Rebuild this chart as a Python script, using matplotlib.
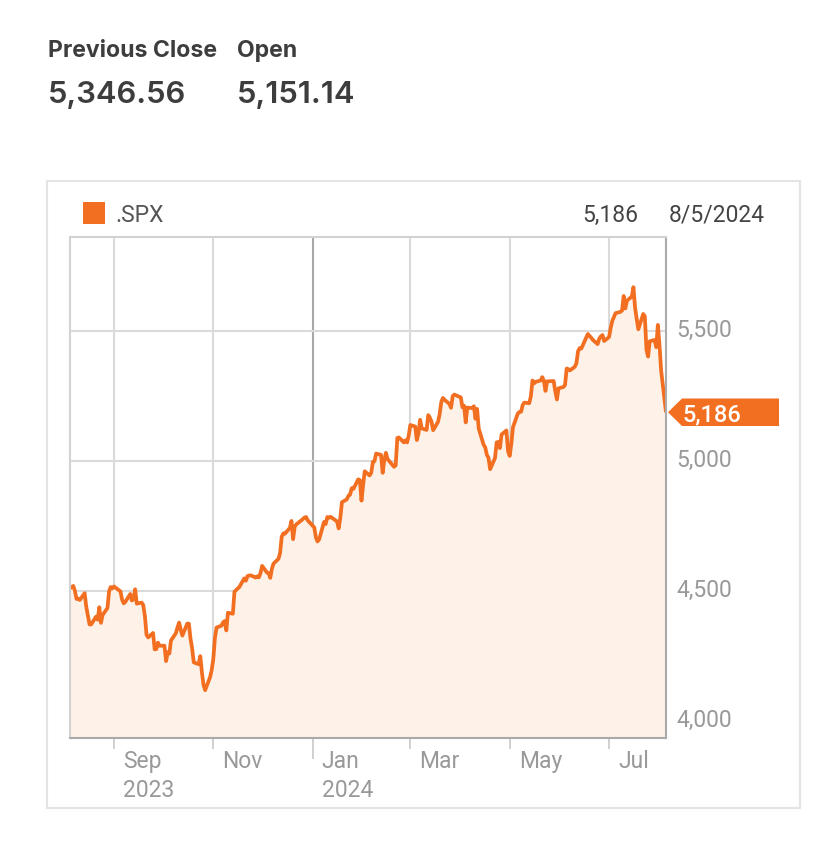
import matplotlib
matplotlib.use("Agg")
import matplotlib.pyplot as plt
import matplotlib.dates as mdates
from matplotlib.patches import Rectangle, Polygon
import numpy as np

# ---------------- data ----------------
header_labels = ["Previous Close", "Open"]
header_values = ["5,346.56", "5,151.14"]
series_name = ".SPX"
last_value_label = "5,186"
last_date_label = "8/5/2024"

dates = [
    "2023-08-04", "2023-08-07", "2023-08-08", "2023-08-09", "2023-08-10", "2023-08-11", "2023-08-14", "2023-08-15",
    "2023-08-16", "2023-08-17", "2023-08-18", "2023-08-21", "2023-08-22", "2023-08-23", "2023-08-24",
    "2023-08-25", "2023-08-28", "2023-08-29", "2023-08-30", "2023-08-31",
    "2023-09-01", "2023-09-05", "2023-09-06", "2023-09-07", "2023-09-08", "2023-09-11", "2023-09-12",
    "2023-09-13", "2023-09-14", "2023-09-15", "2023-09-18", "2023-09-19", "2023-09-20", "2023-09-21",
    "2023-09-22", "2023-09-25", "2023-09-26", "2023-09-27", "2023-09-28", "2023-09-29",
    "2023-10-02", "2023-10-03", "2023-10-04", "2023-10-05", "2023-10-06", "2023-10-09", "2023-10-10",
    "2023-10-11", "2023-10-12", "2023-10-13", "2023-10-16", "2023-10-17", "2023-10-18", "2023-10-19",
    "2023-10-20", "2023-10-23", "2023-10-24", "2023-10-25", "2023-10-26", "2023-10-27", "2023-10-30",
    "2023-10-31",
    "2023-11-01", "2023-11-02", "2023-11-03", "2023-11-06", "2023-11-07", "2023-11-08", "2023-11-09",
    "2023-11-10", "2023-11-13", "2023-11-14", "2023-11-15", "2023-11-16", "2023-11-17", "2023-11-20",
    "2023-11-21", "2023-11-22", "2023-11-24", "2023-11-27", "2023-11-28", "2023-11-29", "2023-11-30",
    "2023-12-01", "2023-12-04", "2023-12-05", "2023-12-06", "2023-12-07", "2023-12-08", "2023-12-11",
    "2023-12-12", "2023-12-13", "2023-12-14", "2023-12-15", "2023-12-18", "2023-12-19", "2023-12-20",
    "2023-12-21", "2023-12-22", "2023-12-26", "2023-12-27", "2023-12-28", "2023-12-29",
    "2024-01-02", "2024-01-03", "2024-01-04", "2024-01-05", "2024-01-08", "2024-01-09", "2024-01-10",
    "2024-01-11", "2024-01-12", "2024-01-16", "2024-01-17", "2024-01-18", "2024-01-19", "2024-01-22",
    "2024-01-23", "2024-01-24", "2024-01-25", "2024-01-26", "2024-01-29", "2024-01-30", "2024-01-31",
    "2024-02-01", "2024-02-02", "2024-02-05", "2024-02-06", "2024-02-07", "2024-02-08", "2024-02-09",
    "2024-02-12", "2024-02-13", "2024-02-14", "2024-02-15", "2024-02-16", "2024-02-20", "2024-02-21",
    "2024-02-22", "2024-02-23", "2024-02-26", "2024-02-27", "2024-02-28", "2024-02-29",
    "2024-03-01", "2024-03-04", "2024-03-05", "2024-03-06", "2024-03-07", "2024-03-08", "2024-03-11",
    "2024-03-12", "2024-03-13", "2024-03-14", "2024-03-15", "2024-03-18", "2024-03-19", "2024-03-20",
    "2024-03-21", "2024-03-22", "2024-03-25", "2024-03-26", "2024-03-27", "2024-03-28",
    "2024-04-01", "2024-04-02", "2024-04-03", "2024-04-04", "2024-04-05", "2024-04-08", "2024-04-09",
    "2024-04-10", "2024-04-11", "2024-04-12", "2024-04-15", "2024-04-16", "2024-04-17", "2024-04-18",
    "2024-04-19", "2024-04-22", "2024-04-23", "2024-04-24", "2024-04-25", "2024-04-26", "2024-04-29",
    "2024-04-30",
    "2024-05-01", "2024-05-02", "2024-05-03", "2024-05-06", "2024-05-07", "2024-05-08", "2024-05-09",
    "2024-05-10", "2024-05-13", "2024-05-14", "2024-05-15", "2024-05-16", "2024-05-17", "2024-05-20",
    "2024-05-21", "2024-05-22", "2024-05-23", "2024-05-24", "2024-05-28", "2024-05-29", "2024-05-30",
    "2024-05-31",
    "2024-06-03", "2024-06-04", "2024-06-05", "2024-06-06", "2024-06-07", "2024-06-10", "2024-06-11",
    "2024-06-12", "2024-06-13", "2024-06-14", "2024-06-17", "2024-06-18", "2024-06-20", "2024-06-21",
    "2024-06-24", "2024-06-25", "2024-06-26", "2024-06-27", "2024-06-28",
    "2024-07-01", "2024-07-02", "2024-07-03", "2024-07-05", "2024-07-08", "2024-07-09", "2024-07-10",
    "2024-07-11", "2024-07-12", "2024-07-15", "2024-07-16", "2024-07-17", "2024-07-18", "2024-07-19",
    "2024-07-22", "2024-07-23", "2024-07-24", "2024-07-25", "2024-07-26", "2024-07-29", "2024-07-30",
    "2024-07-31",
    "2024-08-01", "2024-08-02", "2024-08-05",
]

closes = [
    4505, 4518, 4499, 4468, 4469, 4464, 4490, 4437,
    4404, 4370, 4370, 4400, 4388, 4436, 4376,
    4406, 4433, 4497, 4514, 4508,
    4516, 4497, 4465, 4451, 4457, 4487, 4462,
    4467, 4505, 4450, 4454, 4444, 4402, 4330,
    4320, 4337, 4274, 4275, 4300, 4288,
    4288, 4229, 4263, 4258, 4308, 4336, 4358,
    4377, 4349, 4327, 4373, 4373, 4315, 4278,
    4224, 4217, 4248, 4186, 4137, 4117, 4167,
    4194,
    4237, 4318, 4358, 4365, 4378, 4383, 4347,
    4415, 4411, 4496, 4502, 4508, 4514, 4547,
    4538, 4556, 4559, 4550, 4555, 4551, 4568,
    4595, 4569, 4567, 4549, 4585, 4604, 4622,
    4644, 4707, 4720, 4719, 4741, 4768, 4698,
    4746, 4755, 4775, 4781, 4783, 4770,
    4743, 4705, 4689, 4697, 4764, 4756, 4783,
    4780, 4784, 4766, 4739, 4780, 4840, 4851,
    4865, 4869, 4894, 4891, 4928, 4925, 4846,
    4906, 4959, 4943, 4954, 4995, 4998, 5027,
    5022, 4953, 5001, 5030, 5006, 4976, 4982,
    5087, 5089, 5070, 5078, 5070, 5096,
    5137, 5131, 5079, 5105, 5157, 5124, 5118,
    5175, 5165, 5150, 5117, 5149, 5179, 5225,
    5241, 5234, 5218, 5203, 5248, 5254,
    5243, 5205, 5211, 5147, 5204, 5202, 5209,
    5161, 5199, 5123, 5061, 5051, 5022, 5011,
    4967, 5010, 5070, 5072, 5048, 5100, 5116,
    5036,
    5018, 5064, 5128, 5181, 5187, 5188, 5214,
    5223, 5221, 5247, 5308, 5297, 5303, 5308,
    5321, 5307, 5268, 5305, 5306, 5267, 5235,
    5278,
    5283, 5291, 5354, 5352, 5347, 5361, 5375,
    5421, 5433, 5431, 5473, 5487, 5473, 5465,
    5448, 5469, 5478, 5483, 5460,
    5475, 5509, 5537, 5567, 5572, 5577, 5633,
    5585, 5615, 5631, 5667, 5589, 5545, 5505,
    5564, 5555, 5427, 5400, 5459, 5464, 5436,
    5522,
    5446, 5347, 5186,
]

month_ticks = ["2023-09-01", "2023-11-01", "2024-01-01", "2024-03-01", "2024-05-01", "2024-07-01"]
month_labels = ["Sep", "Nov", "Jan", "Mar", "May", "Jul"]
year_labels = ["2023", "", "2024", "", "", ""]
y_ticks = [4000, 4500, 5000, 5500]

# ---------------- style ----------------
ORANGE = "#F26F21"
FILL = "#FDF1E8"
GRID = "#DADADA"
W, H = 824, 860
CHART_FONT = ["Roboto", "DejaVu Sans"]
HEAD_FONT = ["Inter", "DejaVu Sans"]

fig = plt.figure(figsize=(W / 100, H / 100), dpi=100)
fig.patch.set_facecolor("white")


def fx(x):
    return x / W


def fy(y):
    return 1 - y / H


# header
for lab, val, x in zip(header_labels, header_values, [48, 237]):
    fig.text(fx(x), fy(56.7), lab, fontsize=16.6, fontweight="bold", color="#3d3d3d",
             family=HEAD_FONT, va="baseline", ha="left")
    fig.text(fx(x), fy(103), val, fontsize=22.3, fontweight="semibold", color="#3d3d3d",
             family=HEAD_FONT, va="baseline", ha="left")

# container box
fig.patches.append(Rectangle((fx(47), fy(808)), fx(800) - fx(47), fy(181) - fy(808),
                             transform=fig.transFigure, fill=False, edgecolor="#E4E4E4",
                             linewidth=1.5))

# legend row
fig.patches.append(Rectangle((fx(83), fy(224)), fx(105) - fx(83), fy(202) - fy(224),
                             transform=fig.transFigure, facecolor=ORANGE, edgecolor="none"))
fig.text(fx(115), fy(221.7), series_name, fontsize=16.5, color="#555555", family=CHART_FONT,
         va="baseline", ha="left")
fig.text(fx(582), fy(221.7), last_value_label, fontsize=16.5, color="#444444", family=CHART_FONT,
         va="baseline", ha="left")
fig.text(fx(669), fy(221.7), last_date_label, fontsize=16.5, color="#444444", family=CHART_FONT,
         va="baseline", ha="left")

# axes
ax = fig.add_axes([fx(70), fy(738.3), fx(666) - fx(70), fy(237) - fy(738.3)])
ax.set_facecolor("white")
d = np.array(dates, dtype="datetime64[D]")
v = np.array(closes, dtype=float)
tick_d = np.array(month_ticks, dtype="datetime64[D]")

ax.set_xlim(np.datetime64("2023-08-05"), np.datetime64("2024-08-05"))
ax.set_ylim(3932, 5860)

for i, t in enumerate(tick_d):
    c = "#A8A8A8" if month_labels[i] == "Jan" else GRID
    ax.axvline(t, color=c, lw=1.5, zorder=1)
for yv in y_ticks:
    ax.axhline(yv, color=GRID, lw=1.5, zorder=1)

ax.fill_between(d, v, 3000, color=FILL, lw=0, zorder=2)
ax.plot(d, v, color=ORANGE, lw=2.7, zorder=3, solid_joinstyle="round", solid_capstyle="butt")

for s in ["top", "left"]:
    ax.spines[s].set_color("#D2D2D2")
    ax.spines[s].set_linewidth(1.5)
for s in ["bottom", "right"]:
    ax.spines[s].set_color("#AAAAAA")
    ax.spines[s].set_linewidth(1.5)
for s in ax.spines.values():
    s.set_zorder(4)

ax.set_yticks(y_ticks)
ax.set_yticklabels([])
ax.tick_params(axis="y", length=0, left=False, right=False)

ax.set_xticks(tick_d)
ax.set_xticklabels([""] * len(tick_d))
ax.tick_params(axis="x", length=8, width=1.1, color="#C4C4C4", pad=0)
for i, tk in enumerate(ax.xaxis.get_major_ticks()):
    if month_labels[i] == "Jan":
        tk.tick1line.set_markersize(15)
        tk.tick1line.set_color("#A8A8A8")

# y labels (right side, baseline 6px below gridline)
for yv in y_ticks:
    ypix = ax.transData.transform((mdates.date2num(d[-1].item()), yv))[1]
    fig.text(676 / W, (ypix - 6) / H, f"{yv:,}", fontsize=16.5, color="#999999",
             family=CHART_FONT, va="baseline", ha="left")

# x labels (left-aligned, right of tick)
for i, t in enumerate(tick_d):
    xpix = ax.transData.transform((mdates.date2num(t.astype("datetime64[D]").item()), 4000))[0]
    fig.text((xpix + 9) / W, fy(768), month_labels[i], fontsize=16.5, color="#999999",
             family=CHART_FONT, va="baseline", ha="left")
    if year_labels[i]:
        fig.text((xpix + 9) / W, fy(796.7), year_labels[i], fontsize=16.5, color="#999999",
                 family=CHART_FONT, va="baseline", ha="left")

# last price tag
ypix = ax.transData.transform((mdates.date2num(d[-1].item()), v[-1]))[1]
xr = 666
hh = 13.75
pts = [(xr + 2, ypix), (xr + 16, ypix + hh), (xr + 113, ypix + hh), (xr + 113, ypix - hh), (xr + 16, ypix - hh)]
fig.patches.append(Polygon([(px / W, py / H) for px, py in pts], closed=True,
                           transform=fig.transFigure, facecolor=ORANGE, edgecolor="none"))
fig.text((xr + 17) / W, ypix / H, f"{int(v[-1]):,}", fontsize=17, color="white",
         family=CHART_FONT, fontweight="medium", va="center_baseline", ha="left")

fig.savefig("out.png", dpi=100, facecolor="white")
